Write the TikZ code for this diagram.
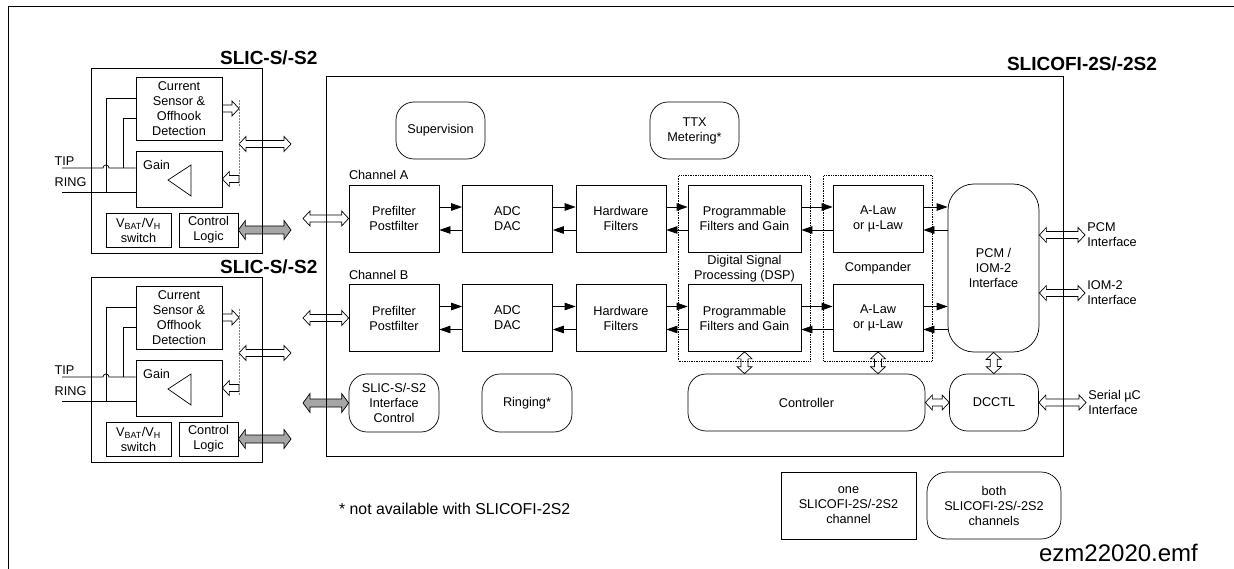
\documentclass[tikz,border=0pt]{standalone}
\usepackage{fontspec}
\setmainfont{Liberation Sans}
\usetikzlibrary{arrows.meta, positioning, fit, calc, backgrounds}

% fat two-headed bus arrow: fill, half shaft, half head, from, to
\newcommand{\fatbus}[5]{%
  \begin{scope}[on background layer]
  \draw[fill=#1, line width=0.7pt] (#4) -- ($(#4)!7pt!(#5)!#3!90:(#5)$) -- ($(#4)!7pt!(#5)!#2!90:(#5)$)
    -- ($(#5)!7pt!(#4)!#2!-90:(#4)$) -- ($(#5)!7pt!(#4)!#3!-90:(#4)$) -- (#5)
    -- ($(#5)!7pt!(#4)!#3!90:(#4)$) -- ($(#5)!7pt!(#4)!#2!90:(#4)$)
    -- ($(#4)!7pt!(#5)!#2!-90:(#5)$) -- ($(#4)!7pt!(#5)!#3!-90:(#5)$) -- cycle;
  \end{scope}}
% fat one-headed bus arrow
\newcommand{\fatone}[5]{%
  \begin{scope}[on background layer]
  \draw[fill=#1, line width=0.7pt] ($(#4)!#2!90:(#5)$) -- ($(#5)!7pt!(#4)!#2!-90:(#4)$)
    -- ($(#5)!7pt!(#4)!#3!-90:(#4)$) -- (#5) -- ($(#5)!7pt!(#4)!#3!90:(#4)$)
    -- ($(#5)!7pt!(#4)!#2!90:(#4)$) -- ($(#4)!#2!-90:(#5)$) -- cycle;
  \end{scope}}

\tikzset{
  blk/.style={draw, minimum width=90pt, minimum height=67pt, align=center, inner sep=1pt},
  rblk/.style={blk, minimum height=57pt, rounded corners=18pt},
  ttl/.style={font=\bfseries\fontsize{19}{22}\selectfont},
  sig/.style={-{Triangle[length=11pt,width=7.5pt]}},
  dotbox/.style={draw, densely dotted, inner sep=9pt},
}

\begin{document}
\begin{tikzpicture}[x=1pt, y=-1pt, line width=0.7pt, font=\fontsize{12.7}{15}\selectfont]
    \useasboundingbox (0,0) rectangle (1234,569);
    \draw[line width=1pt] (8,569) -- (8,7) -- (1234,7);

    % the two SLIC-S/-S2
    \foreach \s/\dy in {a/0, b/209} {
        \node[draw, minimum width=171pt, minimum height=185pt] (slic\s) at (176.5,160.5+\dy) {};
        \node[ttl, anchor=east] at (321,58+\dy) {SLIC-S/-S2};
        \node[blk, minimum width=86pt, minimum height=63pt] (sens\s) at (179,108.5+\dy) {Current\\Sensor \&\\Offhook\\Detection};
        \node[blk, minimum width=86pt, minimum height=56pt] (gain\s) at (179,179+\dy) {};
        \node[anchor=west] at (139.5,165+\dy) {Gain};
        \draw (168,180+\dy) -- (191,165+\dy) -- (191,196+\dy) -- cycle;
        \node[blk, minimum width=65pt, minimum height=34pt] (vbat\s) at (138.5,230+\dy) {V\textsubscript{BAT}/V\textsubscript{H}\\switch};
        \node[blk, minimum width=59pt, minimum height=34pt] (logic\s) at (208.5,230+\dy) {Control\\Logic};
        \node[anchor=west] (tip\s) at (51,161+\dy) {TIP};
        \node[anchor=west] (ring\s) at (51,182+\dy) {RING};
        \coordinate (tin\s) at (62,168+\dy);
        \coordinate (rin\s) at (62,192+\dy);
        \draw (tin\s) -- (103,168+\dy) arc[start angle=180, end angle=0, radius=3pt] -- (tin\s -| gain\s.west);
        \draw (rin\s) -- (rin\s -| gain\s.west);
        \draw (106,192+\dy) |- ([yshift=10.5pt]sens\s.west);
        \draw (123,168+\dy) |- ([yshift=-9.5pt]sens\s.west);
        \coordinate (dt\s) at (239,100+\dy);
        \coordinate (db\s) at (239,187+\dy);
        \draw[gray, dash pattern=on 2pt off 1pt] (dt\s) -- (db\s);
        \coordinate (sd\s) at (sens\s.east -| dt\s);
        \coordinate (gd\s) at (gain\s.east -| dt\s);
        \fatone{white}{3.5pt}{7.5pt}{sens\s.east}{sd\s}
        \fatone{white}{3.5pt}{7.5pt}{gd\s}{gain\s.east}
        \coordinate (so\s) at (291,144+\dy);
        \coordinate (sl\s) at (so\s -| dt\s);
        \fatbus{white}{3.5pt}{7.5pt}{sl\s}{so\s}
        \coordinate (co\s) at (291,230+\dy);
        \fatbus{gray!70}{4pt}{9.5pt}{logic\s.east}{co\s}
    }

    % SLICOFI-2S/-2S2
    \node[draw, line width=1pt, minimum width=737pt, minimum height=379pt] (sfi) at (694.5,266.5) {};
    \node[ttl] at (1082,64) {SLICOFI-2S/-2S2};
    \node[rblk, minimum width=89pt] (sup) at (440.5,130.5) {Supervision};
    \node[rblk, minimum width=89pt] (ttx) at (694.5,130.5) {TTX\\Metering*};
    \node[rblk, minimum width=91pt, minimum height=168pt, rounded corners=26pt] (pcm) at (993.5,268) {PCM /\\IOM-2\\Interface};

    \foreach \c/\dy in {A/0, B/99.5} {
        \node[blk] (pre\c) at (394,218.5+\dy) {Prefilter\\Postfilter};
        \node[anchor=south west, inner sep=0pt, yshift=4.5pt] at (pre\c.north west) {Channel \c};
        \node[blk] (adc\c) at (507.5,218.5+\dy) {ADC\\DAC};
        \node[blk] (hw\c) at (621,218.5+\dy) {Hardware\\Filters};
        \node[blk, minimum width=113pt] (prog\c) at (744.5,218.5+\dy) {Programmable\\Filters and Gain};
        \node[blk] (law\c) at (878,218.5+\dy) {A-Law\\or µ-Law};
        \foreach \u/\v in {pre/adc, adc/hw, hw/prog, prog/law} {
            \draw[sig] ([yshift=11.5pt]\u\c.east) -- ([yshift=11.5pt]\v\c.west);
            \draw[sig] ([yshift=-11.5pt]\v\c.west) -- ([yshift=-11.5pt]\u\c.east);
        }
        \draw[sig] ([yshift=11.5pt]law\c.east) -- ([yshift=11.5pt]law\c.east -| pcm.west);
        \draw[sig] ([yshift=-11.5pt]law\c.east -| pcm.west) -- ([yshift=-11.5pt]law\c.east);
        \coordinate (in\c) at (303,218.5+\dy);
        \fatbus{white}{3.5pt}{7.5pt}{in\c}{pre\c.west}
    }

    \node[dotbox, fit=(progA)(progB)] (dspbox) {};
    \node[align=center] at (dspbox.center) {Digital Signal\\Processing (DSP)};
    \node[dotbox, fit=(lawA)(lawB)] (cmpbox) {};
    \node at (cmpbox.center) {Compander};

    \node[rblk, minimum width=237pt] (ctl) at (806.5,402.5) {Controller};
    \node[rblk, minimum width=89pt] (dcctl) at (994,402.5) {DCCTL};
    \node[rblk, minimum height=58pt] (ifc) at (394,403) {SLIC-S/-S2\\Interface\\Control};
    \node[rblk, minimum height=58pt] (ring) at (527,403) {Ringing*};

    \coordinate (ctlp) at (progB.south |- ctl.north);
    \coordinate (ctll) at (lawB.south |- ctl.north);
    \fatbus{white}{3.5pt}{7.5pt}{progB.south}{ctlp}
    \fatbus{white}{3.5pt}{7.5pt}{lawB.south}{ctll}
    \fatbus{white}{3.5pt}{7.5pt}{pcm.south}{dcctl.north}
    \fatbus{white}{3.5pt}{7.5pt}{ctl.east}{dcctl.west}
    \coordinate (ifcin) at (303,403);
    \fatbus{gray!70}{4pt}{9.5pt}{ifcin}{ifc.west}

    % outside interfaces
    \coordinate (pcmout) at (1085,235);
    \coordinate (iomout) at (1085,293);
    \coordinate (serout) at (1086,402.5);
    \coordinate (pcmin) at (pcmout -| pcm.east);
    \coordinate (iomin) at (iomout -| pcm.east);
    \fatbus{white}{3.5pt}{7.5pt}{pcmin}{pcmout}
    \fatbus{white}{3.5pt}{7.5pt}{iomin}{iomout}
    \fatbus{white}{3.5pt}{7.5pt}{dcctl.east}{serout}
    \node[right=1pt of pcmout, inner sep=1pt, align=left] {PCM\\Interface};
    \node[right=1pt of iomout, inner sep=1pt, align=left] {IOM-2\\Interface};
    \node[right=1pt of serout, inner sep=1pt, align=left] {Serial µC\\Interface};

    % notes and legend
    \node[anchor=west, font=\fontsize{15.8}{18}\selectfont] (note) at (335.5,509) {* not available with SLICOFI-2S2};
    \node[blk, minimum width=135pt] (one) at (848.5,505.5) {one\\SLICOFI-2S/-2S2\\channel};
    \node[rblk, minimum width=134pt, minimum height=67pt, rounded corners=20pt] (both) at (994,505.5) {both\\SLICOFI-2S/-2S2\\channels};
    \node[font=\fontsize{24}{28}\selectfont] (file) at (1118.5,553) {ezm22020.emf};
\end{tikzpicture}
\end{document}
